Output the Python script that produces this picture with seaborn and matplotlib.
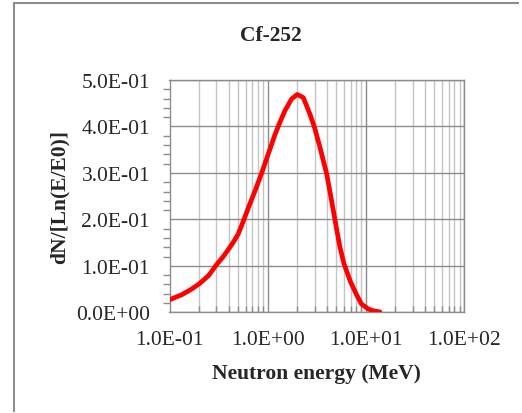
import matplotlib
matplotlib.use("Agg")
import matplotlib.pyplot as plt
import matplotlib.ticker as mticker
from matplotlib.lines import Line2D
import seaborn as sns
import pandas as pd

# Cf-252 neutron spectrum
energy_mev = [0.10, 0.134, 0.165, 0.20, 0.25, 0.30, 0.35, 0.40, 0.45, 0.50, 0.567,
              0.638, 0.746, 0.873, 1.0, 1.19, 1.35, 1.50, 1.75, 2.0, 2.31,
              2.70, 3.0, 3.41, 4.0, 4.48, 5.0, 5.45, 6.0, 7.0, 8.0,
              9.0, 10.6, 12.0, 13.9]
dn_dlnE = [0.027, 0.038, 0.049, 0.061, 0.079, 0.102, 0.119, 0.136, 0.152, 0.168, 0.197,
           0.226, 0.262, 0.301, 0.337, 0.383, 0.412, 0.434, 0.459, 0.469, 0.462,
           0.426, 0.398, 0.355, 0.297, 0.240, 0.183, 0.140, 0.104, 0.065, 0.039,
           0.018, 0.007, 0.003, 0.001]

title = "Cf-252"
x_label = "Neutron energy (MeV)"
y_label = "dN/[Ln(E/E0)]"
x_ticks = [0.1, 1, 10, 100]
y_ticks = [0.0, 0.1, 0.2, 0.3, 0.4, 0.5]

sns.set_style("white")
plt.rcParams["font.family"] = ["Liberation Serif", "DejaVu Serif"]

df = pd.DataFrame({"E": energy_mev, "y": dn_dlnE})

fig = plt.figure(figsize=(5.22, 4.14), dpi=100)
ax = fig.add_axes([169.5 / 522, 1 - 313.3 / 414, (464 - 169.5) / 522, (313.3 - 81) / 414])

sns.lineplot(data=df, x="E", y="y", ax=ax, color="#ff0000", linewidth=3.4,
             sort=False, zorder=3, solid_joinstyle="round", solid_capstyle="round")

ax.set_xscale("log")
ax.set_xlim(0.1, 100)
ax.set_ylim(0, 0.5)
ax.set_xticks(x_ticks)
ax.set_yticks(y_ticks)
ax.xaxis.set_minor_locator(mticker.LogLocator(base=10, subs=range(2, 10)))
ax.yaxis.set_minor_locator(mticker.MultipleLocator(0.02))
ax.xaxis.set_minor_formatter(mticker.NullFormatter())
fmt = mticker.FuncFormatter(lambda v, p: f"{v:.1E}")
ax.xaxis.set_major_formatter(fmt)
ax.yaxis.set_major_formatter(fmt)

ax.grid(True, which="major", color="#8c8c8c", linewidth=1.0, zorder=1)
ax.grid(True, which="minor", axis="x", color="#c4c4c4", linewidth=1.0, zorder=1)
ax.set_axisbelow(True)

for s in ax.spines.values():
    s.set_color("#8c8c8c")
    s.set_linewidth(1.0)

ax.tick_params(axis="both", which="major", direction="out", length=5, width=1,
               color="#8c8c8c", labelsize=15.5)
ax.tick_params(axis="y", which="major", pad=9)
ax.tick_params(axis="x", which="major", pad=8)
ax.tick_params(axis="x", which="minor", direction="in", length=4, width=1,
               color="#8c8c8c", bottom=True)
ax.tick_params(axis="y", which="minor", direction="out", length=5, width=1,
               color="#8c8c8c", left=True)

ax.set_xlabel(x_label, fontsize=15.5, fontweight="bold", labelpad=10)
ax.set_ylabel(y_label, fontsize=15.5, fontweight="bold", labelpad=5)

fig.text(271 / 522, 1 - 36 / 414, title, ha="center", va="center",
         fontsize=15.5, fontweight="bold")

# chart-area frame: only its top and left edges fall inside the image
fx = 13.5 / 522
fy = 1 - 3.5 / 414
fig.add_artist(Line2D([fx, fx, 0.995], [0.003, fy, fy], transform=fig.transFigure,
                      color="#8c8c8c", linewidth=1.5, solid_capstyle="butt",
                      solid_joinstyle="miter"))

fig.savefig("out.png", dpi=100, facecolor="white")
